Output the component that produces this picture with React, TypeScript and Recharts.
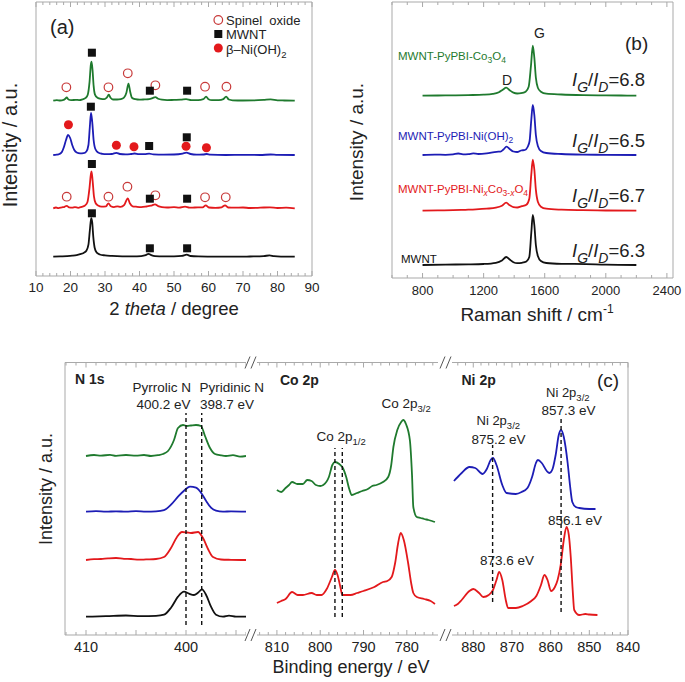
import React from "react";
import { ComposedChart, LineChart, Line, Scatter, XAxis, YAxis, ReferenceLine } from "recharts";

type Pt = [number, number];

const FONT = "'Liberation Sans', Arial, Helvetica, sans-serif";
const FRAME = "#a9a9a9";
const INK = "#222";
const GREEN = "#1f7a2e";
const BLUE = "#1d1db5";
const RED = "#e3191c";
const BLACK = "#111";
const SPINEL = "#c83a3a";

// ---------- (a) XRD, intensity above each trace's baseline ----------
const XRD_GREEN: Pt[] = [
  [15, 0], [16, 0.6], [17, 0.2], [18, 0.8], [18.5, 2], [18.9, 3.2], [19.4, 1.2], [20.2, 0.5], [21.5, 0.9],
  [22.5, 0.6], [23.5, 1.4], [24.4, 2.8], [25, 6], [25.5, 18], [25.9, 36], [26.1, 39], [26.4, 30], [26.7, 15],
  [27.1, 6], [27.8, 3], [28.8, 1.8], [29.8, 1.5], [30.5, 3], [31.1, 6], [31.6, 3], [32.3, 1.2], [33.5, 1.2],
  [34.6, 1.6], [35.5, 3], [36.2, 8], [36.8, 17], [37.3, 9], [37.8, 3], [38.8, 1.5], [40, 1], [41.5, 1.3],
  [42.8, 1.6], [43.8, 2.6], [44.6, 3.6], [45.4, 2], [46.5, 1], [48, 0.6], [50, 0.8], [52, 1], [53.5, 1.6],
  [55, 0.6], [57, 0.6], [58.5, 1.5], [59.3, 4], [60, 1.5], [61, 0.5], [63, 0.6], [64.3, 1.6], [65.1, 4],
  [65.9, 1.2], [67, 0.4], [70, 0.2], [73, 0.3], [76, 0.8], [78, 1.3], [80, 0.4], [82, 0.2], [85, 0],
];
const XRD_BLUE: Pt[] = [
  [15, 0], [16, 0.3], [16.8, 1], [17.5, 3], [18.1, 8], [18.7, 15], [19.3, 20], [19.9, 17], [20.5, 10],
  [21.1, 5], [21.8, 2.5], [22.8, 1.6], [23.8, 1.8], [24.6, 3.5], [25.2, 10], [25.6, 28], [25.95, 42],
  [26.3, 33], [26.7, 15], [27.2, 6], [28, 2.5], [29.2, 1.2], [30.5, 0.8], [32, 1], [33.3, 2.2], [34.3, 1],
  [36, 0.6], [37.5, 1], [38.6, 1.5], [39.8, 0.8], [41.5, 0.8], [42.8, 1.4], [44, 0.6], [47, 0.4], [50, 0.5],
  [52.5, 1.4], [53.6, 2.3], [54.8, 1], [56.5, 0.3], [58.5, 0.5], [59.5, 1], [60.5, 0.3], [65, 0], [70, 0.2],
  [75, 0], [78, 0.5], [80, 0.1], [85, 0],
];
const XRD_RED: Pt[] = [
  [15, 0], [15.8, 0.8], [16.5, 0.2], [17.5, 1], [18.3, 1.5], [18.9, 2.5], [19.6, 1], [20.5, 0.6], [21.3, 1.2],
  [22.2, 0.5], [23.2, 1.5], [24.2, 2.8], [24.9, 6], [25.5, 20], [25.9, 34], [26.1, 37], [26.4, 28], [26.8, 12],
  [27.3, 5], [28, 2.8], [29, 1.6], [30.3, 2], [31, 5], [31.7, 2], [32.6, 1.2], [33.6, 2], [34.5, 1.4],
  [35.6, 3.5], [36.6, 10], [37.2, 5], [38, 2], [39, 1.6], [40.5, 1.2], [42, 1.8], [43.3, 2.6], [44.5, 4],
  [45.4, 2.2], [46.5, 1.2], [48, 0.8], [50, 1.2], [51.5, 0.6], [53.2, 1.6], [54.5, 0.6], [56, 0.8], [58.3, 1],
  [59.2, 3], [60.1, 0.8], [62, 0.5], [63.8, 1], [64.8, 3], [65.7, 0.8], [67.5, 0.6], [70, 0.8], [72, 0.3],
  [75, 0.6], [77.8, 1], [80, 0.3], [82.5, 0.6], [85, 0],
];
const XRD_BLACK: Pt[] = [
  [15, 0], [17, 0.3], [19, 0.6], [20.5, 1], [21.8, 1.6], [22.8, 2.5], [23.8, 3.8], [24.6, 6], [25.2, 12],
  [25.6, 26], [26.0, 38.5], [26.3, 34], [26.6, 20], [27, 9], [27.6, 4], [28.5, 2.2], [30, 1.3], [32, 0.8],
  [35, 0.4], [38, 0.3], [40.5, 0.6], [41.8, 1.5], [42.6, 2.8], [43.4, 1.6], [44.5, 0.6], [47, 0.3], [50, 0.4],
  [52.3, 0.9], [53.7, 2], [54.8, 0.7], [57, 0.3], [62, 0.1], [68, 0], [72, 0.2], [76, 0.5], [77.7, 1.4],
  [79, 0.5], [81, 0.1], [85, 0],
];
const XRD_OFFSET = { green: 175.3, blue: 121, red: 67.7, black: 19.3 };

// reflection markers (2theta, height in plot units)
const SPINEL_MARKS: Pt[] = [
  [18.8, 188.7], [31, 188.7], [36.6, 202.7], [44.6, 190.7], [59, 189.3], [65.2, 189.3],
  [18.9, 79.3], [31, 79.3], [36.5, 89.3], [44.6, 80.7], [59, 78.7], [65, 78.7],
];
const MWNT_MARKS: Pt[] = [
  [26.2, 223.3], [43, 185.3], [53.8, 185.3],
  [25.9, 169.3], [42.8, 130], [53.7, 138.7],
  [26.2, 112], [43, 77.3], [53.8, 77.3],
  [26.2, 62.7], [43, 27.7], [53.8, 27.7],
];
const NIOH_MARKS: Pt[] = [[19.4, 151.3], [33.3, 130.7], [38.4, 129.3], [53.5, 129.7], [59.4, 128.3]];

// ---------- (b) Raman ----------
const RAMAN_GREEN: Pt[] = [
  [800, 0], [900, 0.2], [1000, 0.3], [1100, 0.6], [1200, 1], [1260, 1.8], [1300, 3.5], [1325, 6], [1348, 8],
  [1370, 5.5], [1395, 3], [1420, 2.2], [1445, 2.5], [1475, 4], [1495, 9], [1510, 30], [1522, 50], [1532, 38],
  [1542, 18], [1555, 8], [1575, 4], [1610, 2], [1710, 1.2], [1850, 0.6], [2000, 0.3], [2100, 0.2], [2200, 0],
];
const RAMAN_BLUE: Pt[] = [
  [800, 0], [880, 0.4], [950, 0.2], [1000, 0.6], [1034, 1.5], [1065, 0.6], [1100, 0.8], [1132, 1.7],
  [1165, 1], [1220, 1.6], [1285, 3.2], [1310, 3.4], [1330, 5.5], [1350, 8.3], [1372, 5.8], [1395, 3.5],
  [1420, 3], [1445, 4.5], [1470, 5], [1488, 8], [1501, 14], [1512, 35], [1522, 50], [1532, 40], [1542, 20],
  [1555, 9], [1575, 4], [1610, 2], [1710, 1], [1850, 0.4], [2000, 0.2], [2200, 0],
];
const RAMAN_RED: Pt[] = [
  [800, 0], [900, 0.3], [1000, 0.5], [1080, 0.9], [1150, 1.3], [1220, 2], [1280, 3], [1320, 5], [1348, 8],
  [1370, 5.5], [1395, 3.6], [1420, 3.2], [1450, 4.5], [1480, 6], [1499, 12], [1512, 36], [1522, 51],
  [1532, 41], [1542, 21], [1555, 9], [1575, 4], [1610, 2], [1710, 1], [1850, 0.5], [2000, 0.2], [2200, 0],
];
const RAMAN_BLACK: Pt[] = [
  [800, 0], [950, 0.4], [1100, 0.6], [1200, 1], [1280, 2.2], [1320, 4.5], [1348, 8], [1370, 5.5], [1395, 2.8],
  [1420, 1.8], [1450, 2.2], [1480, 3.5], [1499, 8], [1512, 32], [1522, 50], [1532, 40], [1542, 20], [1555, 9],
  [1575, 4], [1610, 2], [1710, 1.2], [1870, 0.9], [2000, 0.3], [2200, 0],
];
const RAMAN_OFFSET = { green: 182.3, blue: 123, red: 67.3, black: 13 };
const RAMAN_RATIOS = ["6.8", "6.5", "6.7", "6.3"];

// ---------- (c) XPS ----------
const N1S_GREEN: Pt[] = [
  [410, 0], [409.2, 1], [408.5, 0.3], [407.6, 1.2], [407, 0.2], [406, 1], [405, 0.4], [404.2, 1], [403.5, 0],
  [402.8, 0.8], [402.3, 2], [401.8, 5], [401.2, 16], [400.8, 28], [400.3, 31], [399.9, 30], [399.5, 30.5],
  [399, 31], [398.5, 30], [398.1, 20], [397.6, 8], [397.1, 2], [396.5, 0.6], [396, 0], [395.3, 0.8], [394.6, -0.6], [394, 0],
];
const N1S_BLUE: Pt[] = [
  [410, 0], [409, 0.6], [408, 0], [407, 0.4], [406, 0], [405, 0.5], [404, 0], [403, 0.3], [402.2, 1.5],
  [401.5, 7], [400.8, 15], [400.2, 21], [399.6, 25], [399, 24], [398.5, 19], [398, 11], [397.5, 4], [397, 1],
  [396.3, 0], [395.5, 0.4], [394, 0],
];
const N1S_RED: Pt[] = [
  [410, 0], [409.2, 0.8], [408.5, 1], [407.8, 1.6], [407, 2], [406.2, 1.2], [405.5, 1], [404.7, 0.3], [404, 0.6],
  [403, 1], [402.2, 3], [401.5, 12], [400.9, 23], [400.4, 28], [399.9, 27.5], [399.5, 27], [398.8, 28],
  [398.3, 22], [397.8, 11], [397.3, 3], [396.5, 0.5], [395.5, 0.2], [394, 0],
];
const N1S_BLACK: Pt[] = [
  [410, 0], [408, 0.5], [406, 1.2], [404.5, 0.5], [403, 0.8], [402.2, 2], [401.5, 9], [400.8, 20], [400.2, 25],
  [399.7, 23], [399.2, 21.7], [398.8, 24], [398.4, 27.3], [398, 22], [397.5, 10], [397, 2], [396.3, 0],
  [395.7, 1], [395, 0], [394, 0],
];
const N1S_OFFSET = { green: 179, blue: 123.3, red: 75, black: 18.3 };

const CO_GREEN: Pt[] = [
  [810, 35], [809, 33], [808, 37], [807.2, 40], [806.5, 43], [805.3, 41], [804, 41], [803, 45], [802, 44],
  [801, 40], [800, 39], [799.3, 40], [798, 48], [797.2, 60], [796.6, 63], [795.6, 61], [794.9, 58], [794, 48],
  [793.3, 36], [792.7, 30], [791.5, 32], [790.3, 34], [789, 36], [788, 39], [787, 40], [785.5, 43],
  [784.3, 48], [783.6, 60], [783.1, 78], [782.2, 95], [781.3, 103], [780.8, 105], [780.2, 101], [779.3, 85],
  [778.8, 50], [778.5, 18], [777.7, 8], [776.8, 7], [776, 6], [775, 5], [774.2, 4], [773.5, 3],
];
const CO_RED: Pt[] = [
  [810, 2], [809, 4], [808, 6], [806.5, 13], [805.2, 10], [804, 10], [802, 12], [800.8, 10], [799.7, 10],
  [798.5, 16], [797.3, 28], [796.6, 35], [796, 30], [795.3, 17], [794.9, 10], [793, 10], [791.5, 12], [790, 14],
  [787.5, 18], [785.5, 23], [784.5, 24], [783.5, 28], [782.7, 42], [782, 62], [781.4, 72], [780.7, 65],
  [779.7, 42], [779, 22], [778.5, 12], [777.7, 8], [776, 6], [774.5, 4], [773.5, 1],
];
const CO_OFFSET = { green: 110, red: 30 };

const NI_BLUE: Pt[] = [
  [885, 29], [883, 37], [881, 43], [879.5, 42], [877.6, 36], [876.5, 41], [875.5, 50], [874.9, 52], [874, 45],
  [872.5, 25], [871.4, 17], [869, 16], [867.5, 18], [866, 22], [864.8, 33], [863.8, 47], [863.3, 50],
  [862.3, 47], [861, 39], [860.3, 37], [859.5, 41], [858.7, 55], [857.9, 75], [857.3, 80], [856.6, 73],
  [855.6, 47], [855, 25], [854.4, 8], [853.5, 3], [852.6, 2], [850, 1], [848.4, 1],
];
const NI_RED: Pt[] = [
  [885, 9], [884, 11], [883, 15], [881, 24], [880, 26], [878.5, 22], [877.4, 18], [876, 20], [874.9, 25],
  [874, 35], [873.3, 43], [872.5, 35], [871.6, 15], [871, 7], [869, 7], [867.2, 9], [865, 14], [863.7, 19],
  [862.5, 30], [861.6, 40], [860.8, 35], [859.9, 24], [858.9, 28], [858.2, 35], [857.4, 50], [856.6, 75],
  [855.9, 88], [855.3, 80], [854.8, 58], [854.3, 25], [853.9, 5], [852.6, 0], [851, 1], [850, 0.5], [847.9, 0],
];
const NI_OFFSET = { blue: 125, red: 20 };

// dashed guide lines: [energy, from, to]
const N1S_GUIDES: [number, number, number][] = [[400.0, 10, 222], [398.43, 10, 222]];
const CO_GUIDES: [number, number, number][] = [[796.6, 18, 187], [794.9, 18, 187]];
const NI_GUIDES: [number, number, number][] = [[875.0, 33, 190], [857.3, 23, 217]];

// ticks
const range = (a: number, b: number, s: number) => {
  const out: number[] = [];
  for (let v = a; v <= b + 1e-9; v += s) out.push(Math.round(v * 100) / 100);
  return out;
};
const A_TICKS = range(10, 90, 2);
const A_LABELS = [10, 20, 30, 40, 50, 60, 70, 80, 90];
const B_TICKS = range(600, 2400, 100);
const B_LABELS = [800, 1200, 1600, 2000, 2400];
const N_TICKS = range(394, 412, 1);
const N_LABELS = [410, 400];
const CO_TICKS = range(774, 814, 2);
const CO_LABELS = [810, 800, 790, 780];
const NI_TICKS = range(840, 884, 2);
const NI_LABELS = [880, 870, 860, 850, 840];

const shift = (pts: Pt[], off: number) => pts.map(([x, v]) => ({ x, y: v + off }));
const points = (pts: Pt[]) => pts.map(([x, y]) => ({ x, y }));

const makeTick = (side: "top" | "bottom", major: number, labels: number[], fontSize: number, gap: number) =>
  (p: any) => {
    const v = Number(p.payload.value);
    const big = Math.abs(v / major - Math.round(v / major)) < 1e-6;
    const d = side === "bottom" ? -1 : 1;
    return (
      <g>
        <line x1={p.x} x2={p.x} y1={p.y} y2={p.y + d * (big ? 5 : 3)} stroke={FRAME} />
        {side === "bottom" && labels.includes(v) && (
          <text x={p.x} y={p.y + gap} textAnchor="middle" fontSize={fontSize} fill={INK} fontFamily={FONT}>
            {v}
          </text>
        )}
      </g>
    );
  };

const openCircle = (p: any) => <circle cx={p.cx} cy={p.cy} r={4.3} fill="none" stroke={SPINEL} strokeWidth={1.2} />;
const blackSquare = (p: any) => <rect x={p.cx - 4} y={p.cy - 4} width={8} height={8} fill={BLACK} />;
const redDot = (p: any) => <circle cx={p.cx} cy={p.cy} r={4.5} fill={RED} />;

const lineProps = { dataKey: "y", dot: false, isAnimationActive: false, type: "monotone" as const, strokeWidth: 1.8 };

export default function App() {
  const axisLine = { stroke: FRAME };
  const xCommon = (id: string, domain: number[], ticks: number[], reversed = false) => ({
    xAxisId: id, dataKey: "x", type: "number" as const, domain, ticks, interval: 0 as const,
    tickSize: 0, tickMargin: 0, tickLine: false, axisLine, allowDataOverflow: true, reversed,
  });
  const dash = { stroke: BLACK, strokeDasharray: "4 3", strokeWidth: 1.4 };

  return (
    <div style={{ position: "relative", width: 685, height: 682, background: "#fff", fontFamily: FONT }}>
      <style>{"body{margin:0}"}</style>

      {/* (a) */}
      <div style={{ position: "absolute", left: 0, top: 0 }}>
        <ComposedChart width={322} height={306} margin={{ top: 0, right: 0, bottom: 0, left: 0 }}>
          <XAxis {...xCommon("b", [10, 90], A_TICKS)} height={30} tick={makeTick("bottom", 10, A_LABELS, 13.5, 16)} />
          <XAxis {...xCommon("t", [10, 90], A_TICKS)} orientation="top" height={2} tick={makeTick("top", 10, [], 0, 0)} />
          <YAxis yAxisId="l" dataKey="y" type="number" domain={[0, 274]} width={36} tick={false} tickLine={false} axisLine={axisLine} allowDataOverflow />
          <YAxis yAxisId="r" orientation="right" type="number" domain={[0, 274]} width={10} tick={false} tickLine={false} axisLine={axisLine} />
          <Line xAxisId="b" yAxisId="l" data={shift(XRD_BLACK, XRD_OFFSET.black)} stroke={BLACK} {...lineProps} />
          <Line xAxisId="b" yAxisId="l" data={shift(XRD_RED, XRD_OFFSET.red)} stroke={RED} {...lineProps} />
          <Line xAxisId="b" yAxisId="l" data={shift(XRD_BLUE, XRD_OFFSET.blue)} stroke={BLUE} {...lineProps} />
          <Line xAxisId="b" yAxisId="l" data={shift(XRD_GREEN, XRD_OFFSET.green)} stroke={GREEN} {...lineProps} />
          <Scatter xAxisId="b" yAxisId="l" data={points(SPINEL_MARKS)} shape={openCircle} isAnimationActive={false} />
          <Scatter xAxisId="b" yAxisId="l" data={points(MWNT_MARKS)} shape={blackSquare} isAnimationActive={false} />
          <Scatter xAxisId="b" yAxisId="l" data={points(NIOH_MARKS)} shape={redDot} isAnimationActive={false} />
        </ComposedChart>
      </div>

      {/* (b) */}
      <div style={{ position: "absolute", left: 360, top: 0 }}>
        <LineChart width={323} height={308} margin={{ top: 0, right: 0, bottom: 0, left: 0 }}>
          <XAxis {...xCommon("b", [600, 2440], B_TICKS)} height={30} tick={makeTick("bottom", 400, B_LABELS, 13, 17)} />
          <XAxis {...xCommon("t", [600, 2440], B_TICKS)} orientation="top" height={2} tick={makeTick("top", 400, [], 0, 0)} />
          <YAxis yAxisId="l" type="number" domain={[0, 276]} width={32} tick={false} tickLine={false} axisLine={axisLine} allowDataOverflow />
          <YAxis yAxisId="r" orientation="right" type="number" domain={[0, 276]} width={10} tick={false} tickLine={false} axisLine={axisLine} />
          <Line xAxisId="b" yAxisId="l" data={shift(RAMAN_BLACK, RAMAN_OFFSET.black)} stroke={BLACK} {...lineProps} />
          <Line xAxisId="b" yAxisId="l" data={shift(RAMAN_RED, RAMAN_OFFSET.red)} stroke={RED} {...lineProps} />
          <Line xAxisId="b" yAxisId="l" data={shift(RAMAN_BLUE, RAMAN_OFFSET.blue)} stroke={BLUE} {...lineProps} />
          <Line xAxisId="b" yAxisId="l" data={shift(RAMAN_GREEN, RAMAN_OFFSET.green)} stroke={GREEN} {...lineProps} />
        </LineChart>
      </div>

      {/* (c) N 1s */}
      <div style={{ position: "absolute", left: 40, top: 350 }}>
        <LineChart width={206} height={315} margin={{ top: 10.5, right: 0, bottom: 0, left: 0 }}>
          <XAxis {...xCommon("b", [394, 412.1], N_TICKS, true)} height={30} tick={makeTick("bottom", 5, N_LABELS, 14.5, 17)} />
          <XAxis {...xCommon("t", [394, 412.1], N_TICKS, true)} orientation="top" height={2} tick={makeTick("top", 5, [], 0, 0)} />
          <YAxis yAxisId="l" type="number" domain={[0, 272.5]} width={25} tick={false} tickLine={false} axisLine={axisLine} allowDataOverflow />
          <Line xAxisId="b" yAxisId="l" data={shift(N1S_BLACK, N1S_OFFSET.black)} stroke={BLACK} {...lineProps} />
          <Line xAxisId="b" yAxisId="l" data={shift(N1S_RED, N1S_OFFSET.red)} stroke={RED} {...lineProps} />
          <Line xAxisId="b" yAxisId="l" data={shift(N1S_BLUE, N1S_OFFSET.blue)} stroke={BLUE} {...lineProps} />
          <Line xAxisId="b" yAxisId="l" data={shift(N1S_GREEN, N1S_OFFSET.green)} stroke={GREEN} {...lineProps} />
          {N1S_GUIDES.map(([e, a, b]) => (
            <ReferenceLine key={e} xAxisId="b" yAxisId="l" segment={[{ x: e, y: a }, { x: e, y: b }]} {...dash} />
          ))}
        </LineChart>
      </div>

      {/* (c) Co 2p */}
      <div style={{ position: "absolute", left: 257, top: 350 }}>
        <LineChart width={181} height={315} margin={{ top: 10.5, right: 0, bottom: 0, left: 0 }}>
          <XAxis {...xCommon("b", [772.8, 814.6], CO_TICKS, true)} height={30} tick={makeTick("bottom", 10, CO_LABELS, 14.5, 17)} />
          <XAxis {...xCommon("t", [772.8, 814.6], CO_TICKS, true)} orientation="top" height={2} tick={makeTick("top", 10, [], 0, 0)} />
          <YAxis yAxisId="l" type="number" domain={[0, 272.5]} hide allowDataOverflow />
          <Line xAxisId="b" yAxisId="l" data={shift(CO_RED, CO_OFFSET.red)} stroke={RED} {...lineProps} />
          <Line xAxisId="b" yAxisId="l" data={shift(CO_GREEN, CO_OFFSET.green)} stroke={GREEN} {...lineProps} />
          {CO_GUIDES.map(([e, a, b]) => (
            <ReferenceLine key={e} xAxisId="b" yAxisId="l" segment={[{ x: e, y: a }, { x: e, y: b }]} {...dash} />
          ))}
        </LineChart>
      </div>

      {/* (c) Ni 2p */}
      <div style={{ position: "absolute", left: 452, top: 350 }}>
        <LineChart width={198} height={315} margin={{ top: 10.5, right: 0, bottom: 0, left: 0 }}>
          <XAxis {...xCommon("b", [840, 885.5], NI_TICKS, true)} height={30} tick={makeTick("bottom", 10, NI_LABELS, 14.5, 17)} />
          <XAxis {...xCommon("t", [840, 885.5], NI_TICKS, true)} orientation="top" height={2} tick={makeTick("top", 10, [], 0, 0)} />
          <YAxis yAxisId="l" orientation="right" type="number" domain={[0, 272.5]} width={22} tick={false} tickLine={false} axisLine={axisLine} allowDataOverflow />
          <Line xAxisId="b" yAxisId="l" data={shift(NI_RED, NI_OFFSET.red)} stroke={RED} {...lineProps} />
          <Line xAxisId="b" yAxisId="l" data={shift(NI_BLUE, NI_OFFSET.blue)} stroke={BLUE} {...lineProps} />
          {NI_GUIDES.map(([e, a, b]) => (
            <ReferenceLine key={e} xAxisId="b" yAxisId="l" segment={[{ x: e, y: a }, { x: e, y: b }]} {...dash} />
          ))}
        </LineChart>
      </div>

      {/* annotations */}
      <svg width={685} height={682} style={{ position: "absolute", left: 0, top: 0, pointerEvents: "none" }} fontFamily={FONT} fill={INK}>
        {/* (a) */}
        <text x={50} y={34} fontSize={20}>(a)</text>
        <circle cx={218.3} cy={20} r={4.3} fill="none" stroke={SPINEL} strokeWidth={1.2} />
        <text x={226} y={24.5} fontSize={13}>{"Spinel\u00A0\u00A0oxide"}</text>
        <rect x={214.3} y={30} width={8} height={8} fill={BLACK} />
        <text x={226} y={39} fontSize={13}>MWNT</text>
        <circle cx={218.3} cy={48} r={4.5} fill={RED} />
        <text x={226} y={53.5} fontSize={13}>β–Ni(OH)<tspan fontSize={9.5} dy={4}>2</tspan></text>
        <text x={174} y={315} fontSize={18.5} textAnchor="middle">2 <tspan fontStyle="italic">theta</tspan> / degree</text>
        <text transform="translate(17,145) rotate(-90)" fontSize={20} textAnchor="middle">Intensity / a.u.</text>

        {/* (b) */}
        <text x={625} y={50} fontSize={19}>(b)</text>
        <text x={539.5} y={38} fontSize={14} textAnchor="middle">G</text>
        <text x={507} y={85} fontSize={14} textAnchor="middle">D</text>
        <text x={398} y={60} fontSize={11.5} fill={GREEN}>
          MWNT-PyPBI-Co<tspan fontSize={8.5} dy={3}>3</tspan><tspan dy={-3}>O</tspan><tspan fontSize={8.5} dy={3}>4</tspan>
        </text>
        <text x={398} y={140} fontSize={11.5} fill={BLUE}>
          MWNT-PyPBI-Ni(OH)<tspan fontSize={8.5} dy={3}>2</tspan>
        </text>
        <text x={398} y={193} fontSize={11.5} fill={RED}>
          MWNT-PyPBI-Ni<tspan fontSize={8.5} dy={3} fontStyle="italic">x</tspan>
          <tspan dy={-3}>Co</tspan><tspan fontSize={8.5} dy={3}>3-</tspan><tspan fontSize={8.5} fontStyle="italic">x</tspan>
          <tspan dy={-3}>O</tspan><tspan fontSize={8.5} dy={3}>4</tspan>
        </text>
        <text x={401} y={263} fontSize={11.5} fill={BLACK}>MWNT</text>
        {RAMAN_RATIOS.map((r, i) => (
          <text key={r} x={572} y={[86, 146.5, 201.5, 256.5][i]} fontSize={18.5}>
            <tspan fontStyle="italic">I</tspan><tspan fontStyle="italic" fontSize={14} dy={6}>G</tspan>
            <tspan dy={-6}>/</tspan><tspan fontStyle="italic">I</tspan>
            <tspan fontStyle="italic" fontSize={14} dy={6}>D</tspan><tspan dy={-6}>={r}</tspan>
          </text>
        ))}
        <text x={537} y={321} fontSize={19} textAnchor="middle">
          Raman shift / cm<tspan fontSize={12} dy={-8}>-1</tspan>
        </text>
        <text transform="translate(363,142) rotate(-90)" fontSize={19} textAnchor="middle">Intensity / a.u.</text>

        {/* (c) */}
        <text x={75} y={383.5} fontSize={14} fontWeight="bold">N 1s</text>
        <text x={132.5} y={391.5} fontSize={13.5}>Pyrrolic N</text>
        <text x={136.5} y={408.5} fontSize={13.5}>400.2 eV</text>
        <text x={199.5} y={391.5} fontSize={13.5}>Pyridinic N</text>
        <text x={200} y={408.5} fontSize={13.5}>398.7 eV</text>

        <text x={280} y={385} fontSize={14} fontWeight="bold">Co 2p</text>
        <text x={381.5} y={408} fontSize={13.5}>Co 2p<tspan fontSize={9.5} dy={4}>3/2</tspan></text>
        <text x={316.5} y={441} fontSize={13.5}>Co 2p<tspan fontSize={9.5} dy={4}>1/2</tspan></text>

        <text x={461.5} y={385} fontSize={14} fontWeight="bold">Ni 2p</text>
        <text x={597} y={387} fontSize={19}>(c)</text>
        <text x={546} y={396.5} fontSize={13}>Ni 2p<tspan fontSize={9.5} dy={4}>3/2</tspan></text>
        <text x={541.5} y={415} fontSize={13.5}>857.3 eV</text>
        <text x={476.5} y={425} fontSize={13}>Ni 2p<tspan fontSize={9.5} dy={4}>3/2</tspan></text>
        <text x={471.5} y={443.5} fontSize={13.5}>875.2 eV</text>
        <text x={548} y={525} fontSize={13.5}>856.1 eV</text>
        <text x={480} y={565} fontSize={13.5}>873.6 eV</text>

        <text x={351} y={673} fontSize={18} textAnchor="middle">Binding energy / eV</text>
        <text transform="translate(52,489) rotate(-90)" fontSize={18} textAnchor="middle">Intensity / a.u.</text>

        {/* axis break marks */}
        {[362.5, 635].map((y) =>
          [245, 440].map((x) => (
            <g key={`${x}-${y}`} stroke="#555" strokeWidth={1}>
              <line x1={x} y1={y + 6} x2={x + 5} y2={y - 6} />
              <line x1={x + 6} y1={y + 6} x2={x + 11} y2={y - 6} />
            </g>
          ))
        )}
      </svg>
    </div>
  );
}
